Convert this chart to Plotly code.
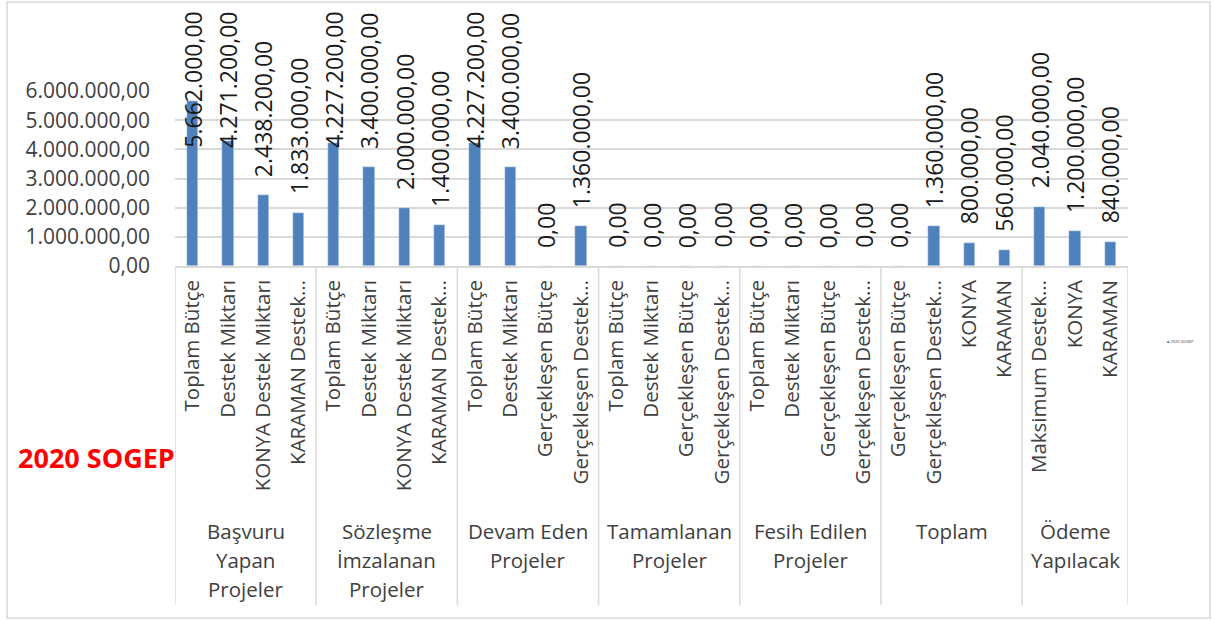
import plotly.graph_objects as go

# ── Data ──────────────────────────────────────────────────────────────────────
groups = [
    ['Başvuru', 'Yapan', 'Projeler'],
    ['Sözleşme', 'İmzalanan', 'Projeler'],
    ['Devam Eden', 'Projeler'],
    ['Tamamlanan', 'Projeler'],
    ['Fesih Edilen', 'Projeler'],
    ['Toplam'],
    ['Ödeme', 'Yapılacak'],
]
group_sizes = [4, 4, 4, 4, 4, 4, 3]

categories = [
    'Toplam Bütçe', 'Destek Miktarı', 'KONYA Destek Miktarı', 'KARAMAN Destek…',
    'Toplam Bütçe', 'Destek Miktarı', 'KONYA Destek Miktarı', 'KARAMAN Destek…',
    'Toplam Bütçe', 'Destek Miktarı', 'Gerçekleşen Bütçe', 'Gerçekleşen Destek…',
    'Toplam Bütçe', 'Destek Miktarı', 'Gerçekleşen Bütçe', 'Gerçekleşen Destek…',
    'Toplam Bütçe', 'Destek Miktarı', 'Gerçekleşen Bütçe', 'Gerçekleşen Destek…',
    'Gerçekleşen Bütçe', 'Gerçekleşen Destek…', 'KONYA', 'KARAMAN',
    'Maksimum Destek…', 'KONYA', 'KARAMAN',
]
values = [
    5662000, 4271200, 2438200, 1833000,
    4227200, 3400000, 2000000, 1400000,
    4227200, 3400000, 0, 1360000,
    0, 0, 0, 0,
    0, 0, 0, 0,
    0, 1360000, 800000, 560000,
    2040000, 1200000, 840000,
]

series_name = '2020 SOGEP'
y_ticks = [0, 1000000, 2000000, 3000000, 4000000, 5000000, 6000000]

# ── Style / geometry ─────────────────────────────────────────────────────────
W, H = 1213, 621
L, R, T, B = 175, 85, 91, 355
PLOT_H = H - T - B
PLOT_W = W - L - R
Y_MAX = 6000000
PPU = PLOT_H / Y_MAX          # pixels per unit
BAR = '#4f81bd'
GRID = '#d9d9d9'
TXT = '#404040'
FONT = 'Open Sans'


def tr_num(v):
    s = f'{v:,.2f}'
    return s.replace(',', 'X').replace('.', ',').replace('X', '.')


def py(pix):
    # page pixel row -> paper y
    return (H - B - pix) / PLOT_H


def px(pix):
    return (pix - L) / PLOT_W


x = list(range(len(values)))

fig = go.Figure(go.Bar(
    x=x, y=values, name=series_name,
    marker_color=BAR, width=0.32,
    showlegend=False,
))

# data labels (Excel pushes the tall ones down so they stay inside the chart)
label_cap = (H - B - 150) / PPU
for i, v in enumerate(values):
    fig.add_annotation(
        x=i, y=min(v + 16 / PPU, label_cap), xref='x', yref='y',
        text=tr_num(v), textangle=-90, showarrow=False,
        xanchor='center', yanchor='bottom',
        font=dict(family=FONT, size=23, color='#1a1a1a'),
    )

# group separators + group labels
bounds = [0]
for n in group_sizes:
    bounds.append(bounds[-1] + n)
for b in bounds:
    fig.add_shape(type='line', xref='x', yref='paper',
                  x0=b - 0.5, x1=b - 0.5, y0=0, y1=py(605),
                  line=dict(color=GRID, width=1.5))

for g, lines in enumerate(groups):
    cx = (bounds[g] + bounds[g + 1] - 1) / 2
    for k, ln in enumerate(lines):
        fig.add_annotation(
            x=cx, y=py(531 + k * 29), xref='x', yref='paper',
            text=ln, showarrow=False, xanchor='center', yanchor='middle',
            font=dict(family=FONT, size=20.5, color=TXT),
        )

# red title on the left
fig.add_annotation(
    x=px(96), y=py(458), xref='paper', yref='paper',
    text='<b>2020 SOGEP</b>', showarrow=False,
    xanchor='center', yanchor='middle',
    font=dict(family=FONT, size=27, color='#ff0000'),
)

# tiny legend on the right
fig.add_annotation(
    x=px(1165), y=py(341), xref='paper', yref='paper', showarrow=False,
    xanchor='left', yanchor='middle',
    text=f"<span style='color:{BAR}'>■</span> {series_name}",
    font=dict(family=FONT, size=4, color=TXT),
)

# chart border
fig.add_shape(type='rect', xref='paper', yref='paper',
              x0=px(7), x1=px(1210), y0=py(618), y1=py(2),
              line=dict(color=GRID, width=1.5), fillcolor='rgba(0,0,0,0)')

fig.update_layout(
    width=W, height=H,
    margin=dict(l=L, r=R, t=T, b=B),
    paper_bgcolor='white', plot_bgcolor='white',
    separators=',.',
    font=dict(family=FONT, color=TXT),
    bargap=0,
    xaxis=dict(
        range=[-0.5, len(values) - 0.5],
        tickmode='array', tickvals=x, ticktext=categories,
        tickangle=-90, tickfont=dict(size=20.5, color=TXT),
        showgrid=False, zeroline=False,
        showline=True, linecolor=GRID, linewidth=1.5,
        ticks='', ticklabelstandoff=4,
    ),
    yaxis=dict(
        range=[0, Y_MAX], tickmode='array', tickvals=y_ticks,
        tickformat=',.2f', tickfont=dict(size=21, color=TXT),
        showgrid=True, gridcolor=GRID, gridwidth=1.5,
        zeroline=False, showline=False,
        ticks='', ticklabelstandoff=24,
    ),
)

fig.write_html('out.html', config={'displayModeBar': False},
               post_script="document.body.style.margin='0';")
